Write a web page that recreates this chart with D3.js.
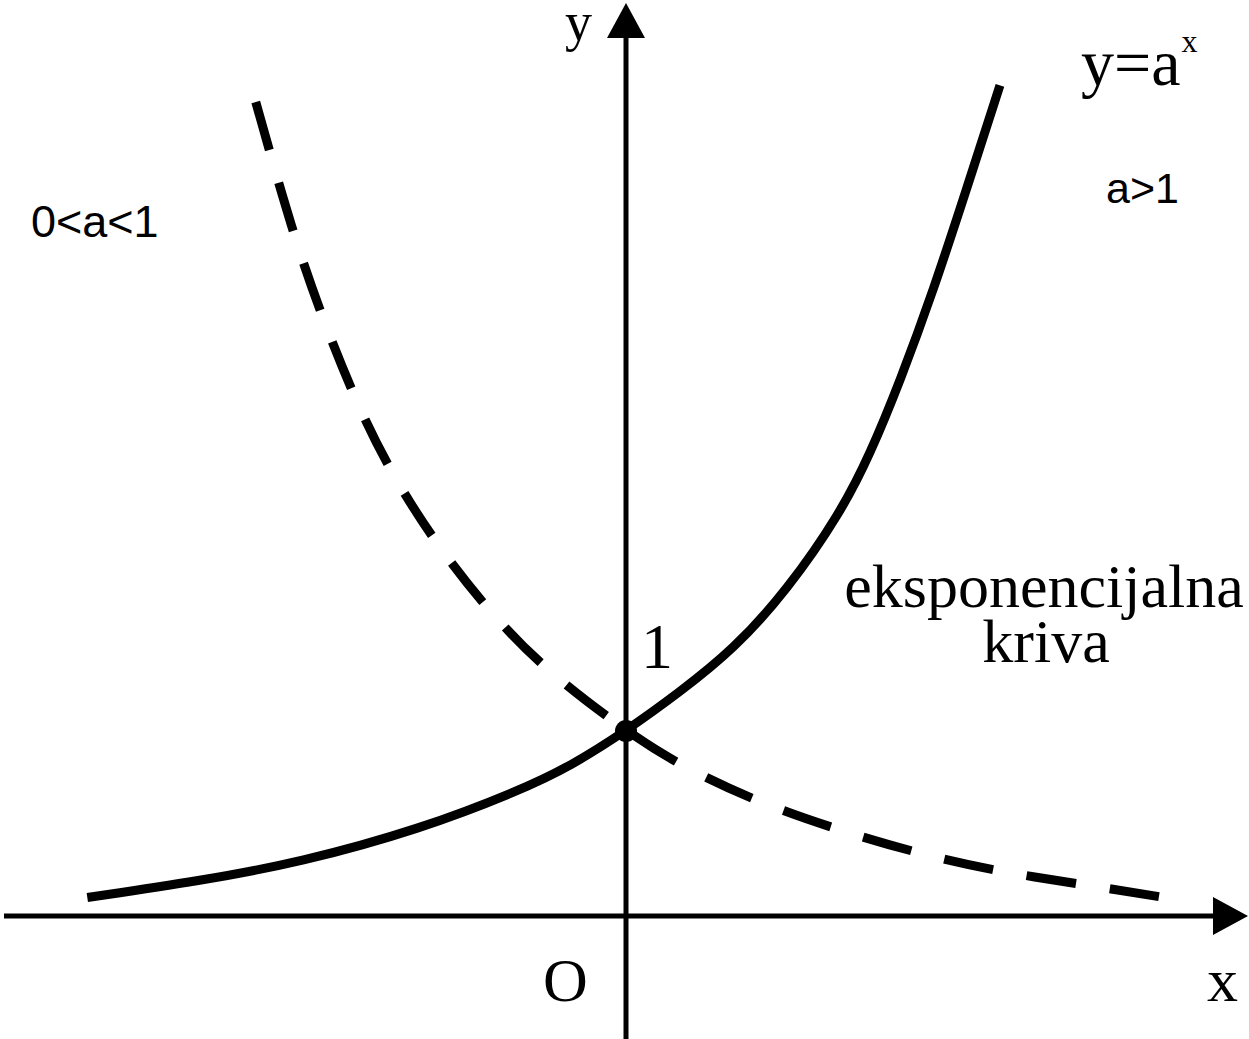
<!DOCTYPE html>
<html>
<head>
<meta charset="utf-8">
<title>Eksponencijalna kriva</title>
<script src="https://d3js.org/d3.v7.min.js"></script>
<style>
  body { margin: 0; background: #fff; }
  svg { display: block; }
  .serif { font-family: "Liberation Serif", "Times New Roman", serif; }
  .sans { font-family: "Liberation Sans", Arial, sans-serif; }
</style>
</head>
<body>
<svg id="chart" width="1249" height="1039"></svg>
<script>
// points, in axis units (1 unit = distance from O to 1)
var growX = [-2.91, -2.30, -1.76, -1.11, -0.57, -0.30, 0, 0.29, 0.58, 0.87, 1.16, 1.32, 1.48, 1.66, 1.84, 2.02];
var growY = [0.10, 0.19, 0.29, 0.47, 0.68, 0.81, 1, 1.21, 1.44, 1.76, 2.18, 2.50, 2.89, 3.38, 3.93, 4.49];

var decayX = [-2.00, -1.80, -1.65, -1.48, -1.29, -1.04, -0.76, -0.45, 0, 0.28, 0.70, 1.13, 1.57, 2.01, 2.47, 2.91];
var decayY = [4.40, 3.69, 3.26, 2.83, 2.43, 2.03, 1.67, 1.34, 1, 0.82, 0.62, 0.47, 0.34, 0.24, 0.17, 0.10];

var width = 1249, height = 1039;

var x = d3.scaleLinear().domain([-3.36, 3.36]).range([4, 1248]);
var y = d3.scaleLinear().domain([0, 1]).range([916, 731]);

var svg = d3.select("#chart");

// axes
var arrowLen = 35, arrowHalf = 19;
var xEnd = x.range()[1], yTop = y(4.935), yBottom = y(-0.665);

svg.append("line")
    .attr("x1", x.range()[0]).attr("x2", xEnd - arrowLen + 2)
    .attr("y1", y(0)).attr("y2", y(0))
    .attr("stroke", "#000").attr("stroke-width", 5);

svg.append("path")
    .attr("d", "M" + xEnd + "," + y(0) +
               "L" + (xEnd - arrowLen) + "," + (y(0) - arrowHalf) +
               "L" + (xEnd - arrowLen) + "," + (y(0) + arrowHalf) + "Z")
    .attr("fill", "#000");

svg.append("line")
    .attr("x1", x(0)).attr("x2", x(0))
    .attr("y1", yBottom).attr("y2", yTop + arrowLen - 2)
    .attr("stroke", "#000").attr("stroke-width", 5);

svg.append("path")
    .attr("d", "M" + x(0) + "," + yTop +
               "L" + (x(0) - arrowHalf) + "," + (yTop + arrowLen) +
               "L" + (x(0) + arrowHalf) + "," + (yTop + arrowLen) + "Z")
    .attr("fill", "#000");

// curves
var line = d3.line()
    .x(function(d) { return x(d[0]); })
    .y(function(d) { return y(d[1]); })
    .curve(d3.curveBasis);

var grow = d3.zip(growX, growY);
var decay = d3.zip(decayX, decayY);

svg.append("path")
    .datum(grow)
    .attr("d", line)
    .attr("fill", "none")
    .attr("stroke", "#000")
    .attr("stroke-width", 9);

svg.append("path")
    .datum(decay)
    .attr("d", line)
    .attr("fill", "none")
    .attr("stroke", "#000")
    .attr("stroke-width", 9)
    .attr("stroke-dasharray", "50,34");

svg.append("circle")
    .attr("cx", x(0)).attr("cy", y(1))
    .attr("r", 11)
    .attr("fill", "#000");

// labels
svg.append("text").attr("class", "serif")
    .attr("x", 565).attr("y", 40)
    .attr("font-size", 54).text("y");

svg.append("text").attr("class", "serif")
    .attr("x", 1207).attr("y", 1001)
    .attr("font-size", 62).text("x");

svg.append("text").attr("class", "serif")
    .attr("x", 543).attr("y", 1001)
    .attr("font-size", 62).text("O");

svg.append("text").attr("class", "serif")
    .attr("x", 641).attr("y", 668)
    .attr("font-size", 64).text("1");

var title = svg.append("text").attr("class", "serif")
    .attr("x", 1081).attr("y", 85)
    .attr("font-size", 66);
title.append("tspan").text("y=a");
title.append("tspan").attr("font-size", 32).attr("dx", 1).attr("dy", -33).text("x");

svg.append("text").attr("class", "sans")
    .attr("x", 1106).attr("y", 203)
    .attr("font-size", 43).text("a>1");

svg.append("text").attr("class", "sans")
    .attr("x", 31).attr("y", 237)
    .attr("font-size", 45).text("0<a<1");

svg.append("text").attr("class", "serif")
    .attr("x", 1044).attr("y", 607)
    .attr("text-anchor", "middle")
    .attr("font-size", 62).text("eksponencijalna");

svg.append("text").attr("class", "serif")
    .attr("x", 1046).attr("y", 662)
    .attr("text-anchor", "middle")
    .attr("font-size", 62).text("kriva");
</script>
</body>
</html>
